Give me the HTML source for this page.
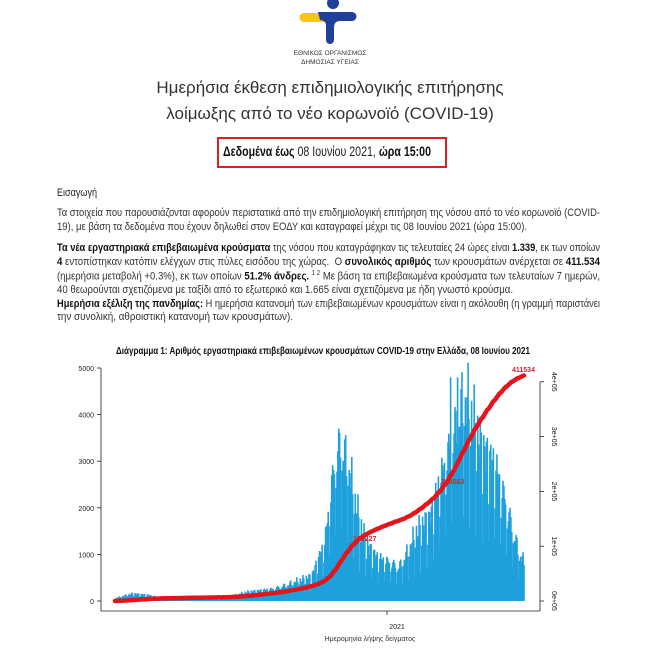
<!DOCTYPE html>
<html><head><meta charset="utf-8">
<style>
html,body{margin:0;padding:0;background:#fff;width:660px;height:660px;overflow:hidden;font-family:"Liberation Sans",sans-serif;color:#222}
#wrap{position:relative;width:660px;height:660px;overflow:hidden}
.ab{position:absolute;white-space:nowrap}
.fit{position:absolute;white-space:nowrap;transform-origin:0 0;font-size:11px;color:#333}
b{font-weight:bold;color:#111}
</style></head><body><div id="wrap">
<svg class="ab" style="left:0;top:0" width="660" height="70">
<circle cx="333" cy="3" r="6" fill="#1f3f99"/>
<path d="M304 13 H328 V22 H304 A4.5 4.5 0 0 1 304 13Z" fill="#f5c518"/>
<path d="M318 12 H352 A4 4 0 0 1 352 21 H340 Q334 21 334 28 V40 A4 4 0 0 1 326 40 V26 Q326 20 320 20Z" fill="#1f3f99"/>
<text x="330" y="55" font-size="6.5" text-anchor="middle" fill="#333" font-family="Liberation Sans">ΕΘΝΙΚΟΣ ΟΡΓΑΝΙΣΜΟΣ</text>
<text x="330" y="64" font-size="6.5" text-anchor="middle" fill="#333" font-family="Liberation Sans">ΔΗΜΟΣΙΑΣ ΥΓΕΙΑΣ</text>
</svg>
<div class="ab" style="left:0;width:660px;text-align:center;top:78px;font-size:17px;color:#333">Ημερήσια έκθεση επιδημιολογικής επιτήρησης</div>
<div class="ab" style="left:0;width:660px;text-align:center;top:104px;font-size:17px;color:#333">λοίμωξης από το νέο κορωνοϊό (COVID-19)</div>
<div class="ab" style="left:217px;top:137px;width:226px;height:27px;border:2px solid #d9202a"></div>
<div class="fit" data-w="208" style="left:223px;top:143px;font-size:14px;color:#222"><b>Δεδομένα έως</b> 08 Ιουνίου 2021, <b>ώρα 15:00</b></div>
<div class="fit" data-w="40" style="left:57px;top:187px;font-size:11px;color:#222">Εισαγωγή</div>
<div class="fit" data-w="543" style="left:57px;top:207px">Τα στοιχεία που παρουσιάζονται αφορούν περιστατικά από την επιδημιολογική επιτήρηση της νόσου από το νέο κορωνοϊό (COVID-</div>
<div class="fit" data-w="470" style="left:57px;top:221px">19), με βάση τα δεδομένα που έχουν δηλωθεί στον ΕΟΔΥ και καταγραφεί μέχρι τις 08 Ιουνίου 2021 (ώρα 15:00).</div>
<div class="fit" data-w="543" style="left:57px;top:242px"><b>Τα νέα εργαστηριακά επιβεβαιωμένα κρούσματα</b> της νόσου που καταγράφηκαν τις τελευταίες 24 ώρες είναι <b>1.339</b>, εκ των οποίων</div>
<div class="fit" data-w="543" style="left:57px;top:256px"><b>4</b> εντοπίστηκαν κατόπιν ελέγχων στις πύλες εισόδου της χώρας. &nbsp;Ο <b>συνολικός αριθμός</b> των κρουσμάτων ανέρχεται σε <b>411.534</b></div>
<div class="fit" data-w="543" style="left:57px;top:270px">(ημερήσια μεταβολή +0.3%), εκ των οποίων <b>51.2% άνδρες.</b> <sup style="font-size:7px">1 2</sup> Με βάση τα επιβεβαιωμένα κρούσματα των τελευταίων 7 ημερών,</div>
<div class="fit" data-w="456" style="left:57px;top:284px">40 θεωρούνται σχετιζόμενα με ταξίδι από το εξωτερικό και 1.665 είναι σχετιζόμενα με ήδη γνωστό κρούσμα.</div>
<div class="fit" data-w="543" style="left:57px;top:298px"><b>Ημερήσια εξέλιξη της πανδημίας:</b> Η ημερήσια κατανομή των επιβεβαιωμένων κρουσμάτων είναι η ακόλουθη (η γραμμή παριστάνει</div>
<div class="fit" data-w="236" style="left:57px;top:311px">την συνολική, αθροιστική κατανομή των κρουσμάτων).</div>
<div class="fit" data-w="414" style="left:116px;top:346px;font-size:10px;color:#111"><b>Διάγραμμα 1: Αριθμός εργαστηριακά επιβεβαιωμένων κρουσμάτων COVID-19 στην Ελλάδα, 08 Ιουνίου 2021</b></div>
<svg id="ch" class="ab" style="left:0;top:355px" width="660" height="305"></svg>
</div>
<script>
document.querySelectorAll('.fit').forEach(function(e){var w=e.getBoundingClientRect().width;var t=+e.dataset.w;e.style.transform='scaleX('+(t/w)+')';});
var NS='http://www.w3.org/2000/svg',svg=document.getElementById('ch'),oy=355;
function el(n,a,t){var e=document.createElementNS(NS,n);for(var k in a)e.setAttribute(k,a[k]);if(t!=null)e.textContent=t;svg.appendChild(e);return e;}
var env=[[0,60],[20,150],[40,120],[60,40],[120,30],[150,180],[180,250],[200,350],[225,500],[240,1200],[250,2700],[258,3300],[268,2700],[280,1600],[290,1100],[300,900],[315,800],[325,700],[335,1000],[345,1400],[360,1700],[375,2700],[390,3600],[400,4200],[408,3800],[420,3100],[435,2800],[445,2200],[455,1500],[462,1000],[468,800]];
function f(d){for(var i=0;i<env.length-1;i++){if(d<=env[i+1][0]){var a=env[i],b=env[i+1];return a[1]+(b[1]-a[1])*(d-a[0])/(b[0]-a[0]);}}return 700;}
var N=468,x0=115,dx=(524-115)/N,y0=601-oy,ky=46.6/1000,vals=[];
for(var d=0;d<=N;d++){var w=d%7,m=(w==0?0.45:w==1?0.8:w==5?1.15:1.05);var v=f(d)*m*(1+0.12*Math.sin(d*1.7));if(d==384||d==392)v=4800;vals.push(v);}
var s=0;vals.forEach(function(v){s+=v});var sc=411534/s;
var p='';vals.forEach(function(v,d){var x=x0+d*dx;p+='M'+x.toFixed(1)+' '+y0+'V'+(y0-v*ky).toFixed(1);});
el('path',{d:p,stroke:'#1ea0dc','stroke-width':'1.6',fill:'none'});
var c=0,q='',ry=54.8/100000;vals.forEach(function(v,d){c+=v*sc;var x=x0+d*dx;q+=(d?'L':'M')+x.toFixed(1)+' '+(y0-c*ry).toFixed(1);});
el('path',{d:q,stroke:'#e3141a','stroke-width':'4.5',fill:'none','stroke-linecap':'round','stroke-linejoin':'round'});
el('path',{d:'M101 '+(y0-233)+'V'+(611-oy)+'H540M540 '+(611-oy-10)+'V'+(611-oy)+'M387 '+(611-oy)+'v4',stroke:'#222',fill:'none','stroke-width':'0.8'});
for(var i=0;i<=5;i++){var y=y0-i*1000*ky;el('path',{d:'M97 '+y+'H101',stroke:'#222','stroke-width':'0.8'});el('text',{x:94,y:y+3,'font-size':'7','text-anchor':'end',fill:'#222','font-family':'Liberation Sans'},i*1000);}
el('path',{d:'M540 '+(y0-219)+'V'+y0,stroke:'#222','stroke-width':'0.8'});
for(var i=0;i<=4;i++){var y=y0-i*54.8;el('path',{d:'M540 '+y+'H544',stroke:'#222','stroke-width':'0.8'});el('text',{x:0,y:0,'font-size':'7',transform:'translate(552 '+y+') rotate(90)','text-anchor':'middle',fill:'#222','font-family':'Liberation Sans'},i+'e+05');}
el('text',{x:397,y:629-oy,'font-size':'7','text-anchor':'middle',fill:'#222','font-family':'Liberation Sans'},'2021');
el('text',{x:370,y:641-oy,'font-size':'7','text-anchor':'middle',fill:'#333','font-family':'Liberation Sans'},'Ημερομηνία λήψης δείγματος');
el('text',{x:0,y:0,'font-size':'7',transform:'translate(71 485) rotate(-90)','text-anchor':'middle',fill:'#333','font-family':'Liberation Sans'},'Αριθμός νέων κρουσμάτων');
el('text',{x:0,y:0,'font-size':'7',transform:'translate(568 493) rotate(90)','text-anchor':'middle',fill:'#333','font-family':'Liberation Sans'},'Συνολικός αριθμός κρουσμάτων');
el('text',{x:512,y:372-oy,'font-size':'7','font-weight':'bold',fill:'#d9202a','font-family':'Liberation Sans'},'411534');
el('text',{x:441,y:484-oy,'font-size':'7','font-weight':'bold',fill:'#d9202a','font-family':'Liberation Sans'},'208563');
el('text',{x:353,y:541-oy,'font-size':'7','font-weight':'bold',fill:'#d9202a','font-family':'Liberation Sans'},'104227');
</script>
</body></html>
